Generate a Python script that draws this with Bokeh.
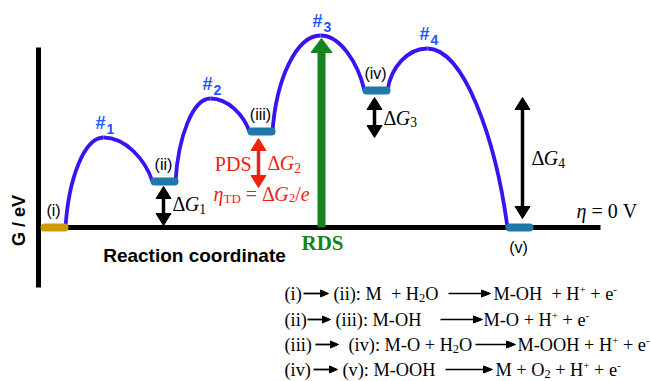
import re
import numpy as np
from bokeh.plotting import figure
from bokeh.models import Range1d
from bokeh.core.properties import value
from bokeh.embed import file_html
from bokeh.resources import INLINE

# ---------------- data ----------------
state_labels = ["(i)", "(ii)", "(iii)", "(iv)", "(v)"]
state_x = [54, 164, 261, 376, 519]
state_G = [0, 46, 96, 137, 0]
state_colors = ["#cc9a06", "#1f77aa", "#1f77aa", "#1f77aa", "#1f77aa"]

ts_labels = ["1", "2", "3", "4"]
ts_x = [103, 210, 320, 427]
ts_G = [90, 129, 192, 179]

dg_labels = ["1", "2", "3", "4"]
dg_x = [163, 258, 374, 522]
dg_low = [2, 40, 90, 9]
dg_high = [41, 89, 130, 130]
dg_colors = ["black", "#ee2211", "black", "black"]

rds_x = 321
rds_top = 189

# equations: (text, kind) runs; kind n=normal, sub, sup
eq_left = ["(i)", "(ii)", "(iii)", "(iv)"]
eq_mid = [
    [("(ii): M  + H", "n"), ("2", "sub"), ("O", "n")],
    [("(iii): M-OH", "n")],
    [("(iv): M-O + H", "n"), ("2", "sub"), ("O", "n")],
    [("(v): M-OOH", "n")],
]
eq_right = [
    [("M-OH  + H", "n"), ("+", "sup"), (" + e", "n"), ("-", "sup")],
    [("M-O + H", "n"), ("+", "sup"), (" + e", "n"), ("-", "sup")],
    [("M-OOH + H", "n"), ("+", "sup"), (" + e", "n"), ("-", "sup")],
    [("M + O", "n"), ("2", "sub"), (" + H", "n"), ("+", "sup"), (" + e", "n"), ("-", "sup")],
]

# ---------------- figure ----------------
W, H = 651, 381
BASE = 227  # pixel row of G = 0
p = figure(width=W, height=H, output_backend="svg", toolbar_location=None,
           x_range=Range1d(0, W), y_range=Range1d(BASE - H, BASE),
           x_axis_type=None, y_axis_type=None, min_border=0)
p.grid.visible = False
p.outline_line_color = None
p.background_fill_color = "white"
p.border_fill_color = "white"


def Y(ypix):
    return BASE - ypix


SERIF = "Liberation Serif"
SANS = "Liberation Sans"

# Times / Liberation Serif advance widths (per 1000 em)
TW = {' ': 250, '(': 333, ')': 333, ':': 278, '-': 333, '+': 564, '=': 564,
      '/': 278, 'M': 889, 'O': 722, 'H': 722, 'i': 278, 'v': 500, 'e': 444,
      'T': 611, 'D': 722, 'P': 556, 'S': 556, 'R': 667, 'G': 722, 'V': 722,
      '\u0394': 612, '\u03b7': 500}
for d in "0123456789":
    TW[d] = 500


def width(s, size):
    return sum(TW.get(c, 500) for c in s) * size / 1000.0


def txt(x, y, s, size, color="black", font=SERIF, style="normal",
        align="left", baseline="middle", angle=0.0):
    p.text(x=[x], y=[y], text=[s], text_font=value(font),
           text_font_size=value(f"{size}px"), text_font_style=value(style),
           text_color=color, text_align=align, text_baseline=baseline,
           angle=angle)


def runs(x, ymid, parts, size, color="black", sub_scale=0.68):
    """Lay out serif runs left to right; ymid is the vertical middle of the text."""
    for s, kind in parts:
        if kind == "sub":
            sz = size * sub_scale
            yy = ymid - 0.3 * (size - sz) - 0.14 * size
        elif kind == "sup":
            sz = size * 0.6
            yy = ymid - 0.3 * (size - sz) + 0.36 * size
        else:
            sz = size
            yy = ymid
        style = "italic" if kind == "i" else "normal"
        sz = round(sz, 1)
        for tok in re.findall(r" +|[^ ]+", s):
            if not tok.startswith(" "):
                txt(x, yy, tok, sz, color=color, style=style)
            x += width(tok, sz)
    return x


def arrow(x0, y0, x1, y1, lw, hl, hw, color, both=False):
    a = np.array([x0, y0], float)
    b = np.array([x1, y1], float)
    d = b - a
    u = d / np.hypot(*d)
    s0 = a + u * hl * 0.8 if both else a
    s1 = b - u * hl * 0.8
    p.segment(x0=[s0[0]], y0=[s0[1]], x1=[s1[0]], y1=[s1[1]],
              line_width=lw, line_color=color)
    heads = [(b, u)]
    if both:
        heads.append((a, -u))
    xs, ys = [], []
    for tip, uu in heads:
        nn = np.array([-uu[1], uu[0]])
        base = tip - uu * hl
        pts = [tip, base + nn * hw / 2, base - nn * hw / 2]
        xs.append([q[0] for q in pts])
        ys.append([q[1] for q in pts])
    p.patches(xs=xs, ys=ys, fill_color=color, line_color=color, line_width=1)


# axes of the diagram
p.segment(x0=[38], y0=[Y(287)], x1=[38], y1=[Y(47)], line_width=5, line_color="black")
p.segment(x0=[38], y0=[0], x1=[600], y1=[0], line_width=5, line_color="black")

# energy profile curves (state -> TS -> next state)
blue = "#3a14f0"
for i in range(4):
    x0, y0 = state_x[i] + 11, state_G[i]
    xp, yp = ts_x[i], ts_G[i]
    x1, y1 = state_x[i + 1] - 12, state_G[i + 1]
    dx, dy = xp - x0, yp - y0
    p.bezier(x0=[x0], y0=[y0], x1=[xp], y1=[yp],
             cx0=[x0 + 0.08 * dx], cy0=[y0 + 0.55 * dy],
             cx1=[xp - 0.5 * dx], cy1=[yp],
             line_width=3.8, line_color=blue)
    dx, dy = x1 - xp, yp - y1
    p.bezier(x0=[xp], y0=[yp], x1=[x1], y1=[y1],
             cx0=[xp + 0.45 * dx], cy0=[yp],
             cx1=[x1 - 0.15 * dx], cy1=[y1 + 0.5 * dy],
             line_width=3.8, line_color=blue)

# states (pills)
for sx, sg, c in zip(state_x, state_G, state_colors):
    p.segment(x0=[sx - 10], y0=[sg], x1=[sx + 10], y1=[sg],
              line_width=8, line_cap="round", line_color=c)

# RDS arrow
green = "#15821e"
arrow(rds_x, 0, rds_x, rds_top, 8, 14, 21, green)

# Delta G arrows
for x, lo, hi, c in zip(dg_x, dg_low, dg_high, dg_colors):
    arrow(x, lo, x, hi, 3.5, 12, 15, c, both=True)

# state labels
for k, (lab, sx, sg) in enumerate(zip(state_labels, state_x, state_G)):
    yy = sg - 20 if k == 4 else sg + 17
    txt(sx - 1, yy, lab, 16, font=SANS, align="center")

# TS labels
tsblue = "#2255ff"
for lab, tx, tg in zip(ts_labels, ts_x, ts_G):
    txt(tx - 3, tg + 15, "#", 18, color=tsblue, font=SANS, style="bold", align="center")
    txt(tx + 3, tg + 9, lab, 14, color=tsblue, font=SANS, style="bold")

# Delta G labels
for lab, x, lo, hi, c in zip(dg_labels, dg_x, dg_low, dg_high, dg_colors):
    ym = (lo + hi) / 2 + (2 if lab == "1" else 0)
    runs(x + 9, ym, [("\u0394", "n"), ("G", "i"), (lab, "sub")], 20, color=c)

red = "#ee2211"
txt(251, Y(163), "PDS", 20, color=red, align="right")
runs(213, Y(193), [("\u03b7", "i"), ("TD", "sub"), (" = ", "n"), ("\u0394", "n"),
                   ("G", "i"), ("2", "sub"), ("/", "n"), ("e", "i")], 20, color=red,
     sub_scale=0.65)

# eta = 0 V
runs(576, Y(210), [("\u03b7", "i"), (" = 0 V", "n")], 20)

# RDS label
txt(rds_x + 1, Y(242), "RDS", 21, color=green, style="bold", align="center")

# axis labels
txt(18, Y(220), "G / eV", 18, font=SANS, style="bold", align="center", angle=np.pi / 2)
txt(194, Y(255), "Reaction coordinate", 19, font=SANS, style="bold", align="center")

# equations
EQ = 18.3
eq_y = [293, 319, 344, 369]
eq_a1 = [(303, 328), (307, 330), (315, 338), (313, 337)]
eq_mx = [333, 335, 348, 342]
eq_a2 = [(448, 490), (440, 482), (475, 515), (445, 492)]
eq_rx = [493, 483, 517, 495]
for k in range(4):
    yy = Y(eq_y[k])
    runs(284, yy, [(eq_left[k], "n")], EQ)
    arrow(eq_a1[k][0], yy, eq_a1[k][1], yy, 1.8, 8, 7, "black")
    runs(eq_mx[k], yy, eq_mid[k], EQ)
    arrow(eq_a2[k][0], yy, eq_a2[k][1], yy, 1.3, 9, 7, "black")
    runs(eq_rx[k], yy, eq_right[k], EQ)

open("out.html", "w").write(file_html(p, INLINE))
